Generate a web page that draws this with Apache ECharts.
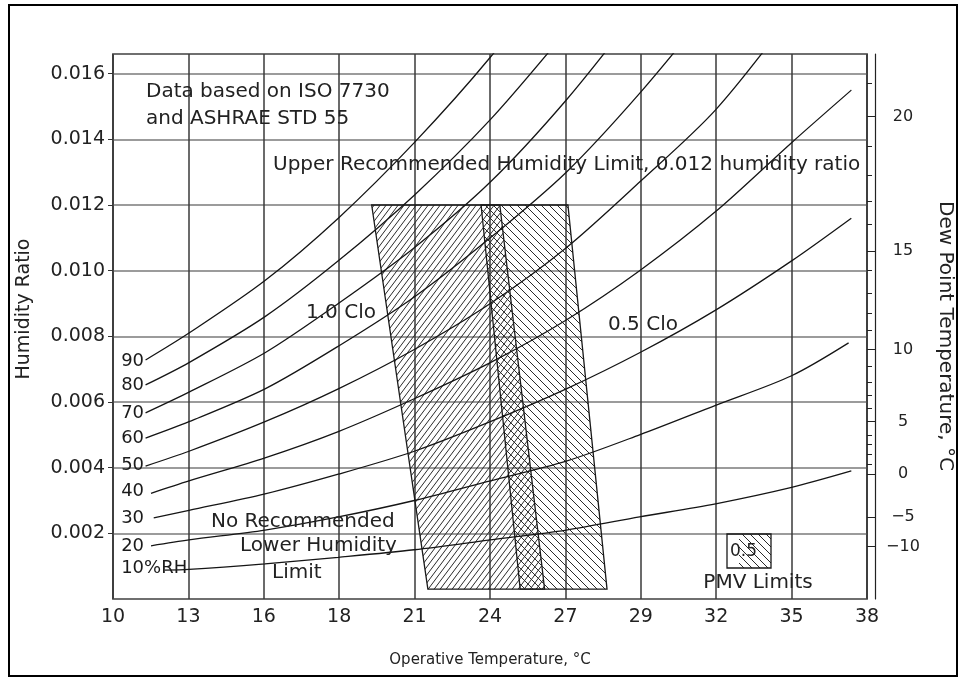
<!DOCTYPE html>
<html><head><meta charset="utf-8">
<script src="https://cdn.jsdelivr.net/npm/echarts@6/dist/echarts.min.js"></script>
<style>html,body{margin:0;padding:0;background:#fff}#c{width:962px;height:680px}</style>
</head><body><div id="c"></div>
<script>
// Temperature axis: uniform 5 °F steps (50–100 °F), labelled in rounded °C
const xTickLabels = ['10','13','16','18','21','24','27','29','32','35','38'];

// Relative-humidity curves: operative temperature (°C) and humidity ratio
const rh90T = [11.2, 12.8, 15.6, 18.3, 21.1, 23.9, 26.7];
const rh90W = [0.00728, 0.0081, 0.0097, 0.0116, 0.0139, 0.0165, 0.0195];
const rh80T = [11.2, 12.8, 15.6, 18.3, 21.1, 23.9, 26.7];
const rh80W = [0.00652, 0.0072, 0.0086, 0.0103, 0.0123, 0.0146, 0.0173];
const rh70T = [11.2, 12.8, 15.6, 18.3, 21.1, 23.9, 26.7, 29.4];
const rh70W = [0.00567, 0.0063, 0.0075, 0.0090, 0.0107, 0.0127, 0.0152, 0.0180];
const rh60T = [11.2, 12.8, 15.6, 18.3, 21.1, 23.9, 26.7, 29.4, 32.2];
const rh60W = [0.00490, 0.0054, 0.0064, 0.0077, 0.0092, 0.0110, 0.0130, 0.0154, 0.0182];
const rh50T = [11.2, 12.8, 15.6, 18.3, 21.1, 23.9, 26.7, 29.4, 32.2, 35.0];
const rh50W = [0.00405, 0.0045, 0.0054, 0.0064, 0.0076, 0.0090, 0.0107, 0.0127, 0.0149, 0.0178];
const rh40T = [11.4, 12.8, 15.6, 18.3, 21.1, 23.9, 26.7, 29.4, 32.2, 35.0, 37.2];
const rh40W = [0.00322, 0.0036, 0.0043, 0.0051, 0.0061, 0.0072, 0.0085, 0.0100, 0.0118, 0.0139, 0.0155];
const rh30T = [11.5, 12.8, 15.6, 18.3, 21.1, 23.9, 26.7, 29.4, 32.2, 35.0, 37.2];
const rh30W = [0.00247, 0.0027, 0.0032, 0.0038, 0.0045, 0.0054, 0.0064, 0.0075, 0.0088, 0.0103, 0.0116];
const rh20T = [11.4, 12.8, 15.6, 18.3, 21.1, 23.9, 26.7, 29.4, 32.2, 35.0, 37.1];
const rh20W = [0.00162, 0.0018, 0.0021, 0.0025, 0.0030, 0.0036, 0.0042, 0.0050, 0.0059, 0.0068, 0.0078];
const rh10T = [11.9, 12.8, 15.6, 18.3, 21.1, 23.9, 26.7, 29.4, 32.2, 35.0, 37.2];
const rh10W = [0.00088, 0.0009, 0.00107, 0.00127, 0.0015, 0.0018, 0.0021, 0.0025, 0.0029, 0.0034, 0.0039];
const rhLabels = ['90', '80', '70', '60', '50', '40', '30', '20', '10%RH'];
const rhLabelW = [0.00723, 0.00652, 0.00566, 0.00489, 0.00408, 0.00327, 0.00246, 0.00161, 0.00094];
const rhLabelT = 10.3;

// Comfort zones (PMV limits) – polygon corners
const clo10T = [19.53, 24.25, 25.9, 21.6];
const clo10W = [0.012, 0.012, 0.0003, 0.0003];
const clo05T = [23.56, 26.76, 28.2, 25.0];
const clo05W = [0.012, 0.012, 0.0003, 0.0003];

// Dew point scale (right side)
const dewLabels = [20, 15, 10, 5, 0, -5, -10];
const dewLabelW = [0.0147, 0.0106, 0.0076, 0.0054, 0.0038, 0.0025, 0.0016];
const dewTickW = [0.0016, 0.0025, 0.0038, 0.0041, 0.0044, 0.0047, 0.0050, 0.0054, 0.0058, 0.0062,
  0.0066, 0.0071, 0.0076, 0.0082, 0.0087, 0.0093, 0.0100, 0.0106, 0.0114, 0.0121, 0.0129, 0.0138, 0.0147, 0.0157];

const FONT = 'DejaVu Sans';
const toF = c => c * 9 / 5 + 32;

function hatch(w, h, dir) {
  const c = document.createElement('canvas');
  c.width = w; c.height = h;
  const g = c.getContext('2d');
  g.strokeStyle = '#2a2a2a'; g.lineWidth = 1;
  g.beginPath();
  for (const o of [-w, 0, w]) {
    if (dir === '/') { g.moveTo(o, h); g.lineTo(o + w, 0); }
    else { g.moveTo(o, 0); g.lineTo(o + w, h); }
  }
  g.stroke();
  return c;
}
const patSlash = { image: hatch(6, 8, '/'), repeat: 'repeat' };
const patBack = { image: hatch(8, 8, '\\'), repeat: 'repeat' };

const curves = [
  [rh90T, rh90W], [rh80T, rh80W], [rh70T, rh70W], [rh60T, rh60W], [rh50T, rh50W],
  [rh40T, rh40W], [rh30T, rh30W], [rh20T, rh20W], [rh10T, rh10W]
];

function zoneSeries(T, W, pattern, name) {
  const pts = T.map((t, i) => [toF(t), W[i]]);
  return {
    type: 'custom', name, clip: true, z: 1,
    data: pts,
    renderItem: (params, api) => {
      if (params.dataIndex !== 0) return null;
      return {
        type: 'polygon',
        shape: { points: pts.map(p => api.coord(p)) },
        style: { fill: pattern, stroke: '#1a1a1a', lineWidth: 1.3 }
      };
    }
  };
}

const series = [
  zoneSeries(clo10T, clo10W, patSlash, '1.0 Clo'),
  zoneSeries(clo05T, clo05W, patBack, '0.5 Clo')
];
curves.forEach((c, k) => {
  series.push({
    type: 'line', name: rhLabels[k], smooth: 0.3, symbol: 'none', clip: true, z: 3,
    lineStyle: { color: '#151515', width: 1.3 },
    data: c[0].map((t, i) => [toF(t), c[1][i]])
  });
});
series.push({
  type: 'scatter', symbolSize: 0, z: 4,
  itemStyle: { opacity: 1 },
  data: rhLabels.map((s, i) => [toF(rhLabelT), rhLabelW[i], s]),
  label: { show: true, position: 'right', distance: 0, formatter: p => p.data[2], opacity: 1,
    fontFamily: FONT, fontSize: 18, color: '#1a1a1a' }
});

const txt = (text, x, y, size, align) => ({
  type: 'text', z: 10,
  style: { text, x, y, font: size + 'px "' + FONT + '"', fill: '#222',
    textAlign: align || 'left', textVerticalAlign: 'middle' }
});

const chart = echarts.init(document.getElementById('c'));
chart.setOption({
  animation: false,
  backgroundColor: '#fff',
  grid: { left: 113, right: 95, top: 54, bottom: 81, show: true, borderColor: '#1a1a1a', borderWidth: 1.5 },
  xAxis: {
    type: 'value', min: 50, max: 100, interval: 5,
    axisLine: { show: false }, axisTick: { show: false },
    axisLabel: { formatter: v => xTickLabels[Math.round((v - 50) / 5)], fontFamily: FONT, fontSize: 19, color: '#222', margin: 9 },
    splitLine: { lineStyle: { color: '#3a3a3a', width: 1.5 } }
  },
  yAxis: [
    {
      type: 'value', min: 0, max: 0.0166, interval: 0.002,
      axisLine: { show: false },
      axisTick: { show: true, length: 5, lineStyle: { color: '#333' } },
      axisLabel: { formatter: v => v.toFixed(3), showMinLabel: false, showMaxLabel: false,
        fontFamily: FONT, fontSize: 19, color: '#222', margin: 8 },
      splitLine: { lineStyle: { color: '#7a7a7a', width: 1.6 } }
    },
    {
      type: 'value', min: 0, max: 0.0166, position: 'right', offset: 0,
      axisLine: { show: false },
      axisTick: { show: true, customValues: dewTickW, length: 5, lineStyle: { color: '#222' } },
      axisLabel: { show: true, customValues: dewLabelW, margin: 36, align: 'center',
        formatter: v => {
          let k = 0;
          dewLabelW.forEach((w, i) => { if (Math.abs(w - v) < Math.abs(dewLabelW[k] - v)) k = i; });
          const d = dewLabels[k];
          return d < 0 ? '\u2212' + Math.abs(d) : String(d);
        },
        fontFamily: FONT, fontSize: 16, color: '#222' },
      splitLine: { show: false }
    },
    {
      type: 'value', min: 0, max: 0.0166, position: 'right', offset: 8,
      axisLine: { show: true, lineStyle: { color: '#222', width: 1.2 } },
      axisTick: { show: true, customValues: dewLabelW, inside: true, length: 8, lineStyle: { color: '#222' } },
      axisLabel: { show: false },
      splitLine: { show: false }
    }
  ],
  graphic: [
    { type: 'rect', z: 0, shape: { x: 9, y: 5, width: 948, height: 671 }, style: { fill: 'none', stroke: '#000', lineWidth: 2 } },
    txt('Data based on ISO 7730', 146, 92, 20),
    txt('and ASHRAE STD 55', 146, 119, 20),
    txt('Upper Recommended Humidity Limit, 0.012 humidity ratio', 273, 165, 20),
    txt('1.0 Clo', 306, 313, 20),
    txt('0.5 Clo', 608, 325, 20),
    txt('No Recommended', 211, 522, 20),
    txt('Lower Humidity', 240, 546, 20),
    txt('Limit', 272, 573, 20),
    { type: 'rect', z: 9, shape: { x: 739, y: 534, width: 32, height: 34 }, style: { fill: patBack, stroke: 'none' } },
    { type: 'rect', z: 9, shape: { x: 727, y: 534, width: 44, height: 34 }, style: { fill: 'none', stroke: '#1a1a1a', lineWidth: 1.3 } },
    txt('0.5', 730, 552, 17),
    txt('PMV Limits', 758, 583, 20, 'center'),
    txt('Operative Temperature, \u00b0C', 490, 660, 15, 'center'),
    { type: 'text', z: 10, x: 24, y: 309, rotation: Math.PI / 2,
      style: { text: 'Humidity Ratio', x: 0, y: 0, font: '19px "' + FONT + '"', fill: '#222', textAlign: 'center', textVerticalAlign: 'middle' } },
    { type: 'text', z: 10, x: 945, y: 336, rotation: -Math.PI / 2,
      style: { text: 'Dew Point Temperature, \u00b0C', x: 0, y: 0, font: '20px "' + FONT + '"', fill: '#222', textAlign: 'center', textVerticalAlign: 'middle' } }
  ],
  series
});
</script></body></html>
